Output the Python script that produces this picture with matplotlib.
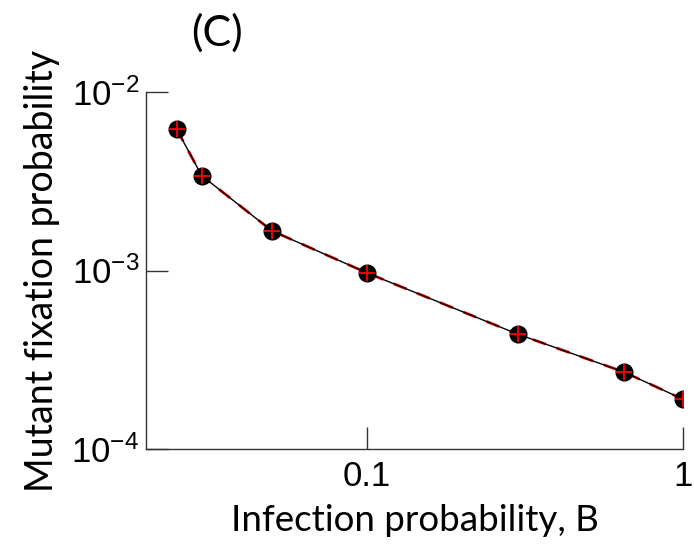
import matplotlib
matplotlib.use('Agg')
import matplotlib.pyplot as plt

# infection probability B vs mutant fixation probability
infection_prob = [0.025, 0.03, 0.05, 0.1, 0.3, 0.65, 1.0]
fixation_sim = [0.0062, 0.0034, 0.00167, 0.00097, 0.00044, 0.00027, 0.00019]
fixation_theory = [0.0062, 0.0034, 0.00167, 0.00097, 0.00044, 0.00027, 0.00019]

x_ticks = [0.1, 1]
x_tick_labels = ['0.1', '1']
y_ticks = [1e-4, 1e-3, 1e-2]
y_tick_labels = [r'$10^{-4}$', r'$10^{-3}$', r'$10^{-2}$']

plt.rcParams['mathtext.fontset'] = 'custom'
plt.rcParams['mathtext.rm'] = 'Liberation Sans'
plt.rcParams['mathtext.it'] = 'Liberation Sans'
plt.rcParams['mathtext.sf'] = 'Liberation Sans'

fig = plt.figure(figsize=(6.94, 5.44), dpi=100)
ax = fig.add_axes([0.2104, 0.1746, 0.7738, 0.6563])

ax.plot(infection_prob, fixation_theory, color='red', linestyle=(0, (5, 4)),
        linewidth=2.0, zorder=2)
ax.plot(infection_prob, fixation_sim, color='black', linewidth=1.0, zorder=3)
ax.plot(infection_prob, fixation_sim, 'o', color='black', markersize=12,
        zorder=4)
ax.plot(infection_prob, fixation_theory, '+', color='red', markersize=12,
        markeredgewidth=1.3, zorder=5)

ax.set_xscale('log')
ax.set_yscale('log')
ax.set_xlim(0.02, 1)
ax.set_ylim(1e-4, 1e-2)

ax.set_xticks(x_ticks)
ax.set_xticklabels(x_tick_labels, fontfamily='Liberation Sans', fontsize=25)
ax.set_yticks(y_ticks)
ax.set_yticklabels(y_tick_labels, fontsize=25)
ax.minorticks_off()
ax.tick_params(direction='in', length=16, width=1.0, color='#333333')
ax.tick_params(axis='x', pad=8)
ax.tick_params(axis='y', pad=5)

for side in ['top', 'right']:
    ax.spines[side].set_visible(False)
for side in ['left', 'bottom']:
    ax.spines[side].set_color('#333333')
    ax.spines[side].set_linewidth(1.0)

ax.set_xlabel('Infection probability, B', fontfamily='Lato', fontsize=26.5,
              labelpad=8)
ax.set_ylabel('Mutant fixation probability', fontfamily='Lato', fontsize=27,
              labelpad=8)
fig.text(0.3127, 0.939, '(C)', fontfamily='Lato', fontsize=31,
         ha='center', va='center')

fig.savefig('out.png', dpi=100)
